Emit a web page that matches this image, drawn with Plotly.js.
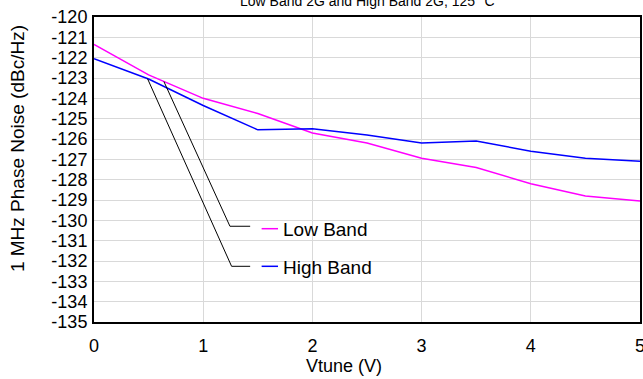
<!DOCTYPE html>
<html>
<head>
<meta charset="utf-8">
<script src="https://cdn.plot.ly/plotly-3.0.1.min.js"></script>
<style>html,body{margin:0;padding:0;background:#fff;}#chart{width:643px;height:379px;}</style>
</head>
<body>
<div id="chart"></div>
<script>
// Data
const vtune = [0, 0.5, 1, 1.5, 2, 2.5, 3, 3.5, 4, 4.5, 5];
const lowBand = [-121.35, -122.85, -124.0, -124.75, -125.7, -126.2, -126.95, -127.4, -128.2, -128.8, -129.05];
const highBand = [-122.05, -123.05, -124.35, -125.55, -125.5, -125.8, -126.2, -126.1, -126.6, -126.95, -127.1];
const seriesNames = ['Low Band', 'High Band'];
const yTickVals = [-120,-121,-122,-123,-124,-125,-126,-127,-128,-129,-130,-131,-132,-133,-134,-135];
const yTickText = yTickVals.map(v => '-' + Math.abs(v));
const xTickVals = [0, 1, 2, 3, 4, 5];
const titleText = 'Low Band 2G and High Band 2G, 125 °C';
const xTitle = 'Vtune (V)';
const yTitle = '1 MHz Phase Noise (dBc/Hz)';

function interp(xs, ys, x) {
  for (let i = 0; i < xs.length - 1; i++) {
    if (x >= xs[i] && x <= xs[i+1]) {
      const t = (x - xs[i]) / (xs[i+1] - xs[i]);
      return ys[i] + t * (ys[i+1] - ys[i]);
    }
  }
  return ys[ys.length-1];
}

const FONT = 'Liberation Sans, Arial, sans-serif';
const colors = ['#ff00ff', '#0000ff'];

const traces = [
  {x: vtune, y: lowBand, name: seriesNames[0], mode: 'lines', line: {color: colors[0], width: 1.5}},
  {x: vtune, y: highBand, name: seriesNames[1], mode: 'lines', line: {color: colors[1], width: 1.5}}
];

// legend box geometry (paper coords)
const boxX0 = 0.275, boxX1 = 0.540, boxY0 = 0.111, boxY1 = 0.377;
const legY = [0.3059, 0.1826];
const sampleX0 = 0.307, sampleX1 = 0.337, textX = 0.343;
// leader anchors on the curves (x in V)
const leaderX = [0.64, 0.49];
const leaderData = [lowBand, highBand];
const leaderElbowX = [1.245, 1.26];
const leaderEndX = 1.43;

const shapes = [
  {type: 'rect', xref: 'paper', yref: 'paper', x0: boxX0, x1: boxX1, y0: boxY0, y1: boxY1,
   fillcolor: '#ffffff', line: {width: 0}, layer: 'below'}
];
const annotations = [];
for (let i = 0; i < 2; i++) {
  const ySample = -135 + legY[i] * 15;
  const yStart = interp(vtune, leaderData[i], leaderX[i]);
  const yEnd = ySample + (i === 0 ? 0.12 : 0);
  shapes.push({type: 'path', xref: 'x', yref: 'y',
    path: 'M ' + leaderX[i] + ',' + yStart + ' L ' + leaderElbowX[i] + ',' + yEnd + ' L ' + leaderEndX + ',' + yEnd,
    line: {color: '#000000', width: 1}});
  shapes.push({type: 'line', xref: 'paper', yref: 'paper', x0: sampleX0, x1: sampleX1, y0: legY[i], y1: legY[i],
    line: {color: colors[i], width: 1.5}});
  annotations.push({xref: 'paper', yref: 'paper', x: textX, y: legY[i] - 0.004, xanchor: 'left', yanchor: 'middle',
    text: seriesNames[i], showarrow: false, font: {family: FONT, size: 19, color: '#000'}});
}
// axis titles
annotations.push({xref: 'paper', yref: 'paper', x: 0.458, y: -0.144, xanchor: 'center', yanchor: 'middle',
  text: xTitle, showarrow: false, font: {family: FONT, size: 18, color: '#000'}});
annotations.push({xref: 'paper', yref: 'paper', x: -0.141, y: 0.567, xanchor: 'center', yanchor: 'middle',
  text: yTitle, textangle: -90, showarrow: false, font: {family: FONT, size: 19, color: '#000'}});
// chart title (cut at the top edge, as in the reference)
annotations.push({xref: 'paper', yref: 'paper', x: 0.5, y: 1 + 16 / 305, xanchor: 'center', yanchor: 'middle',
  text: titleText, showarrow: false, font: {family: FONT, size: 14, color: '#000'}});

const layout = {
  width: 643, height: 379,
  margin: {l: 94, r: 3, t: 17, b: 57, pad: 0},
  paper_bgcolor: '#ffffff', plot_bgcolor: '#ffffff',
  showlegend: false,
  font: {family: FONT, size: 18, color: '#000'},
  xaxis: {range: [0, 5], tickvals: xTickVals, ticktext: xTickVals.map(String),
          showgrid: true, gridcolor: '#d9d9d9', gridwidth: 1, zeroline: false,
          showline: true, linecolor: '#000', linewidth: 2, mirror: true, ticks: '',
          tickfont: {family: FONT, size: 18}, ticklabelstandoff: 6, ticklabeloverflow: 'allow'},
  yaxis: {range: [-135, -120], tickvals: yTickVals, ticktext: yTickText,
          showgrid: true, gridcolor: '#d9d9d9', gridwidth: 1, zeroline: false,
          showline: true, linecolor: '#000', linewidth: 2, mirror: true, ticks: '',
          tickfont: {family: FONT, size: 18}, ticklabelstandoff: 1},
  shapes: shapes,
  annotations: annotations
};

Plotly.newPlot('chart', traces, layout, {staticPlot: true, displayModeBar: false});
</script>
</body>
</html>
